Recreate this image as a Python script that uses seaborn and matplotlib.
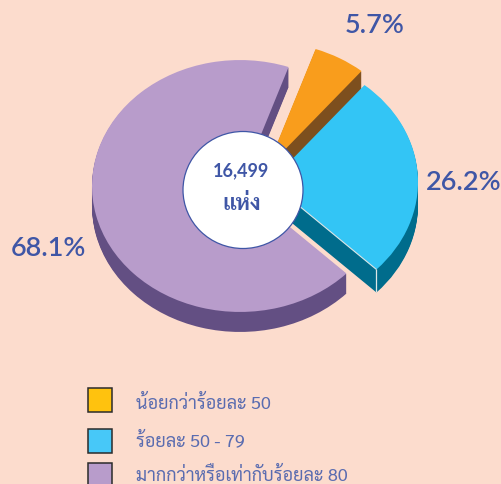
import matplotlib
matplotlib.use('Agg')
import numpy as np
import seaborn as sns
import matplotlib.pyplot as plt
from matplotlib.patches import Ellipse, Rectangle

# data
categories = ["น้อยกว่าร้อยละ 50", "ร้อยละ 50 - 79", "มากกว่าหรือเท่ากับร้อยละ 80"]
values = [5.7, 26.2, 68.1]
value_labels = ["5.7%", "26.2%", "68.1%"]
total_label = "16,499"
unit_label = "แห่ง"

BG = "#FCDCCD"
top_colors = sns.color_palette(["#F99D1C", "#33C5F5", "#B89CCB"])
side_colors = sns.color_palette(["#7D4F1E", "#006C8C", "#634F83"])
legend_colors = sns.color_palette(["#FFC20E", "#47C8F8", "#B89CCB"])
TEXT = "#3F56A6"
LEG_TEXT = "#5A6CB0"

sns.set_theme(style="white", rc={"figure.facecolor": BG, "savefig.facecolor": BG})
thai = ["Sarabun", "Noto Sans Thai", "DejaVu Sans"]
plt.rcParams["font.family"] = ["Lato", "DejaVu Sans"]

W, H = 501, 484
k = 1.175          # vertical squash of the tilted pie
R = 148
fig = plt.figure(figsize=(W / 100, H / 100), dpi=100)
ax = fig.add_axes([0, 0, 1, 1])

# wedge apex in pixels and extrusion depth, in order of values
apex = [(267, 168), (270, 182), (240, 186)]
depths = [27, 23, 20]
start = -44


def draw(colors, dy, z):
    # pie order: blue, orange, purple counter-clockwise from the start angle
    order = [1, 0, 2]
    wedges, _ = ax.pie([values[i] for i in order], startangle=start, radius=R,
                       colors=[colors[i] for i in order], center=(0, 0),
                       wedgeprops={"linewidth": 0})
    for w, i in zip(wedges, order):
        x, y = apex[i]
        w.set_center((x, -(y + dy) * k))
        w.set_zorder(z)
        w.set_visible(dy <= depths[i])
    return dict(zip(order, wedges))


for d in range(max(depths), 0, -1):
    draw(side_colors, d, 1)
tops = draw(top_colors, 0, 2)

# thin light highlight along the blue slice's front edge and corner
blue = tops[1]
cx, cy = blue.center
tip = (cx + R * np.cos(np.radians(blue.theta1)), cy + R * np.sin(np.radians(blue.theta1)))
ax.plot([cx, tip[0]], [cy, tip[1]], color="#DDE6E6", lw=0.8, zorder=3, solid_capstyle="butt")
ax.plot([tip[0], tip[0]], [tip[1], tip[1] - depths[1] * k], color="#DDE6E6", lw=0.9, zorder=3,
        solid_capstyle="butt")

ax.set_xlim(0, W)
ax.set_ylim(-H * k, 0)
ax.set_aspect("auto")
ax.axis("off")

# overlay in pixel coordinates
ov = fig.add_axes([0, 0, 1, 1])
ov.set_xlim(0, W)
ov.set_ylim(H, 0)
ov.axis("off")
ov.patch.set_alpha(0)

ov.add_patch(Ellipse((243, 190), 120, 117, facecolor="white", edgecolor="#3F56A6", linewidth=0.9))
ov.text(240.5, 171, total_label, color=TEXT, fontsize=13, fontweight="bold",
        ha="center", va="center")
ov.text(241.5, 204, unit_label, color=TEXT, fontsize=16, fontweight="bold",
        family=thai, ha="center", va="center")

for txt, (x, y) in zip(value_labels, [(374.5, 25.5), (463.5, 183), (48, 248)]):
    ov.text(x, y, txt, color=TEXT, fontsize=19.5, fontweight="semibold", ha="center", va="center")

# legend
for name, col, sq_y, tx_y in zip(categories, legend_colors, [387, 428, 462], [404, 441, 475.5]):
    ov.add_patch(Rectangle((88.5, sq_y + 0.5), 24, 24, facecolor=col, edgecolor="#2B2B2B",
                           linewidth=1.1))
    ov.text(136, tx_y, name, color=LEG_TEXT, fontsize=13, family=thai, ha="left", va="center")

fig.savefig("out.png", dpi=100)
